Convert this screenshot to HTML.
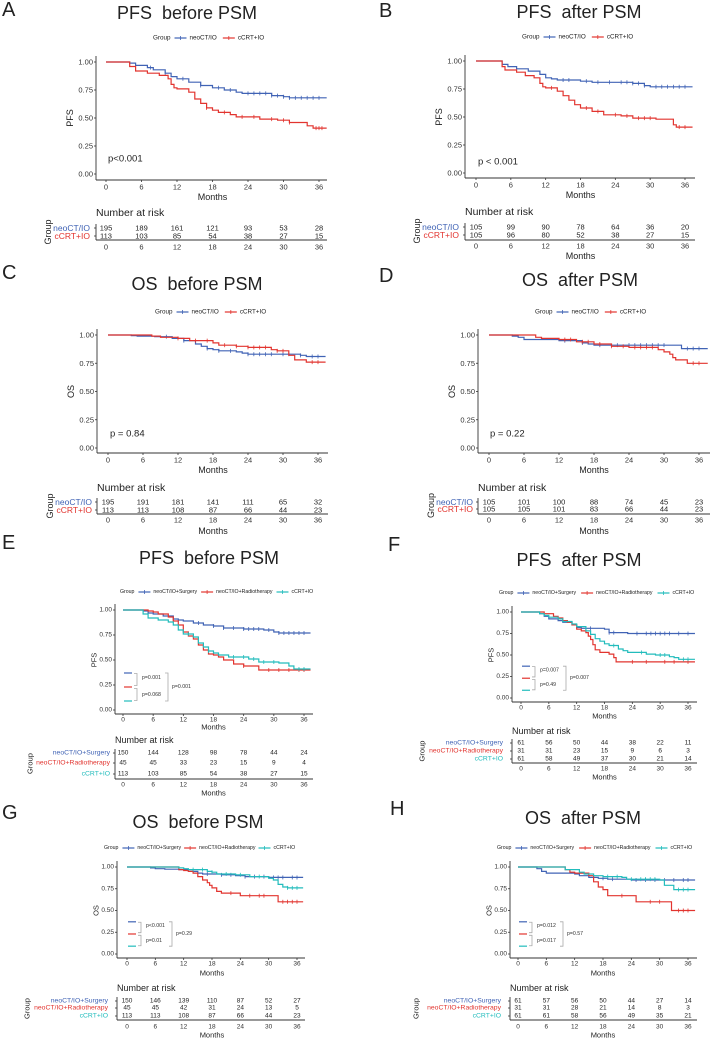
<!DOCTYPE html>
<html><head><meta charset="utf-8">
<style>
html,body{margin:0;padding:0;background:#fff;}
svg{display:block;font-family:"Liberation Sans",Arial,sans-serif;}
text{white-space:pre;}
</style></head>
<body>
<svg id="fig" width="710" height="1039" viewBox="0 0 710 1039" xmlns="http://www.w3.org/2000/svg"></svg>
<script>
// ---- data arrays (time in months, survival) ----
const xTicks=[0,6,12,18,24,30,36];
const yTicks=[0,0.25,0.5,0.75,1];
const yTickLabels=["0.00","0.25","0.50","0.75","1.00"];
const groups2=["neoCT/IO","cCRT+IO"];
const groups3=["neoCT/IO+Surgery","neoCT/IO+Radiotherapy","cCRT+IO"];

const aBlue=[[4,0.99],[5,0.97],[7,0.95],[8,0.93],[10,0.9],[11,0.87],[12,0.85],[14,0.82],[16,0.79],[18,0.77],[20,0.75],[22,0.73],[23,0.72],[28,0.7],[30,0.69],[31,0.68]];
const aRed=[[4,0.96],[5,0.92],[7,0.9],[9,0.88],[10.5,0.85],[11,0.8],[11.5,0.77],[12,0.76],[14,0.73],[15,0.67],[16,0.63],[17,0.59],[18,0.57],[19,0.55],[21,0.53],[22,0.51],[26,0.49],[29,0.48],[31,0.46],[34,0.43],[35,0.41]];
const aBlueC=[7.5,10,13,16,19,21,24,25,26,27,28,29,30,31,32,33,34,35,36];
const aRedC=[17,20,23,25,28,30,31,35.5,36,36.5];
const aRisk=[[195,189,161,121,93,53,28],[113,103,85,54,38,27,15]];

const bBlue=[[4.5,0.97],[5.5,0.95],[7,0.93],[9,0.91],[11,0.88],[12,0.85],[13,0.84],[14,0.83],[18,0.82],[20,0.81],[27,0.8],[29,0.78],[30,0.77]];
const bRed=[[4.5,0.95],[5,0.92],[7,0.9],[8.5,0.87],[10,0.85],[11,0.8],[11.5,0.77],[12,0.76],[14,0.73],[15,0.69],[16,0.65],[17,0.61],[18,0.58],[20,0.55],[22,0.52],[25,0.51],[27,0.49],[31,0.48],[34,0.43],[34.5,0.41]];
const bBlueC=[15,16,19,21,23,25,26,27,28,29,31,32,33,34,35,36];
const bRedC=[13,19,21,24,26,28,29,30,35,36];
const bRisk=[[105,99,90,78,64,36,20],[105,96,80,52,38,27,15]];

const cBlue=[[4,0.995],[5,0.99],[8,0.985],[11,0.97],[13,0.95],[15,0.92],[16,0.9],[17,0.88],[18,0.87],[19,0.86],[22,0.85],[23,0.84],[24,0.83],[33,0.82],[34,0.81]];
const cRed=[[7.5,0.99],[9,0.98],[12,0.97],[14,0.95],[18,0.93],[19,0.91],[22,0.9],[24,0.89],[28,0.87],[29,0.86],[31,0.82],[32,0.78],[34,0.76]];
const cBlueC=[10,13,17,19,21,24,25,26,27,28,30,31,33,35,36];
const cRedC=[12,15,17,20,22,24,25,26,27,29,30,35,36];
const cRisk=[[195,191,181,141,111,65,32],[113,113,108,87,66,44,23]];

const dBlue=[[4,0.99],[5,0.98],[6,0.96],[12,0.95],[16,0.93],[17,0.92],[18,0.91],[33,0.88]];
const dRed=[[8,0.98],[9,0.97],[12,0.96],[15,0.94],[18,0.92],[21,0.9],[24,0.89],[29,0.87],[30,0.85],[31,0.83],[31.5,0.8],[32,0.78],[34,0.75]];
const dBlueC=[13,16,19,22,24,25,26,27,28,29,30,34,35,36];
const dRedC=[13,14,16,17,19,21,23,25,26,27,28,35,36];
const dRisk=[[105,101,100,88,74,45,23],[105,105,101,83,66,44,23]];

const eBlue=[[4,0.99],[5,0.97],[6,0.96],[8,0.94],[10,0.91],[11,0.9],[12,0.89],[14,0.87],[16,0.85],[18,0.84],[20,0.82],[24,0.81],[28,0.8],[30,0.78],[31,0.77]];
const eRed=[[5,0.99],[6,0.98],[7,0.96],[9,0.93],[10,0.89],[11,0.85],[12,0.78],[13,0.74],[14,0.71],[15,0.65],[16,0.6],[17,0.56],[18,0.55],[19,0.53],[20,0.5],[22,0.46],[24,0.44],[27,0.4]];
const eTeal=[[4,0.96],[5,0.92],[7,0.9],[9,0.88],[10,0.85],[11,0.8],[12,0.76],[14,0.73],[15,0.67],[16,0.63],[17,0.59],[18,0.57],[19,0.55],[21,0.53],[25,0.51],[27,0.48],[31,0.47],[33,0.44],[34,0.41]];
const eBlueC=[10,15,18,20,22,24,25,26,27,29,31,32,33,34,35,36];
const eRedC=[24,29,31,33,35,36];
const eTealC=[13,17,22,24,26,28,30,35,36];
const eRisk=[[150,144,128,98,78,44,24],[45,45,33,23,15,9,4],[113,103,85,54,38,27,15]];

const fBlue=[[4,0.98],[5,0.95],[6,0.92],[8,0.9],[9,0.88],[11,0.85],[12,0.82],[13,0.81],[18,0.8],[19,0.76],[23,0.75]];
const fRed=[[5,0.98],[7,0.95],[8,0.93],[9,0.9],[10,0.88],[11,0.85],[12,0.8],[13,0.78],[14,0.76],[14.5,0.72],[15,0.68],[15.5,0.62],[16,0.56],[17,0.53],[19,0.51],[20,0.47],[20.5,0.42]];
const fTeal=[[4,0.98],[5,0.96],[6,0.94],[8,0.92],[9,0.89],[11,0.86],[12,0.83],[14,0.78],[15,0.74],[16,0.69],[17,0.66],[18,0.63],[19,0.61],[21,0.57],[22,0.55],[23,0.53],[27,0.51],[29,0.5],[32,0.48],[33,0.47],[34,0.45]];
const fBlueC=[15,19,20,25,27,28,29,30,31,32,34,36];
const fRedC=[24,27,31,33,36];
const fTealC=[20,26,30,31,35,36];
const fRisk=[[61,56,50,44,38,22,11],[31,31,23,15,9,6,3],[61,58,49,37,30,21,14]];

const gBlue=[[5,0.99],[6,0.98],[8,0.975],[11,0.97],[13,0.95],[15,0.93],[16,0.92],[20,0.91],[23,0.9],[25,0.89],[30,0.88]];
const gRed=[[11,0.97],[12,0.96],[13,0.95],[14,0.93],[15,0.89],[16,0.85],[17,0.82],[17.5,0.79],[18,0.76],[19,0.72],[20,0.7],[24,0.67],[32,0.6]];
const gTeal=[[11,0.99],[12,0.98],[13,0.97],[17,0.95],[18,0.94],[19,0.92],[23,0.91],[26,0.89],[30,0.87],[31,0.85],[32,0.8],[33,0.77],[34,0.76]];
const gBlueC=[14,17,20,22,25,27,29,31,32,33,35,36];
const gRedC=[22,26,28,29,33,34,35,36];
const gTealC=[14,16,18,21,24,28,34,35,36];
const gRisk=[[150,146,139,110,87,52,27],[45,45,42,31,24,13,5],[113,113,108,87,66,44,23]];

const hBlue=[[4,0.98],[5,0.95],[6,0.93],[12,0.92],[13,0.9],[15,0.88],[17,0.87],[19,0.86],[24,0.85]];
const hRed=[[10,0.97],[11,0.94],[12,0.93],[15,0.9],[16,0.83],[17,0.77],[18,0.74],[19,0.67],[25,0.6],[32.5,0.5]];
const hTeal=[[10,0.97],[13,0.94],[14,0.92],[16,0.9],[18,0.89],[22,0.88],[23,0.86],[30,0.85],[31,0.79],[33,0.74]];
const hBlueC=[18,20,25,27,29,31,33,35,36];
const hRedC=[22,28,30,34,35,36];
const hTealC=[19,21,24,26,27,28,29,34,35,36];
const hRisk=[[61,57,56,50,44,27,14],[31,31,28,21,14,8,3],[61,61,58,56,49,35,21]];

const BLUE="#4063b5", RED="#e2342f", TEAL="#22bcbc";
const NS="http://www.w3.org/2000/svg";
const svg=document.getElementById('fig');
function mk(tag,attrs,parent){const e=document.createElementNS(NS,tag);for(const k in attrs)e.setAttribute(k,attrs[k]);(parent||svg).appendChild(e);return e;}
function txt(str,x,y,size,opts,parent){opts=opts||{};const t=mk('text',{x:x,y:y,'font-size':size,fill:opts.fill||'#222','text-anchor':opts.anchor||'start','dominant-baseline':'central'},parent);if(opts.rot)t.setAttribute('transform','rotate(-90 '+x+' '+y+')');t.textContent=str;return t;}
function surv(series,t){let s=1;for(const p of series){if(p[0]<=t)s=p[1];}return s;}

function panel(P){
  const g=mk('g',{});
  
  
  const X=t=>P.x0+(P.x36-P.x0)*t/36;
  const Y=v=>P.y0-(P.y0-P.y1)*v;
  const big=P.big;
  const fs=big?{tick:7.5,mon:9,nar:10.5,row:7.5,lab:8.5,leg:6.3,ax:9}:{tick:6.5,mon:7.5,nar:9,row:6.5,lab:6.8,leg:5.2,ax:7.5};
  const L=txt(P.letter,P.lx,P.ly,20,{},g);
  
  
  const T=txt(P.title,P.tx,P.ty,18,{anchor:'middle'},g);
  
  
  const lg=mk('g',{},g);
  
  
  let lx=P.legX;
  const g1=txt('Group',lx,P.legY,fs.leg,{},lg);
  lx+=g1.getComputedTextLength()+4;
  P.series.forEach((s,i)=>{
    mk('line',{x1:lx,y1:P.legY,x2:lx+12,y2:P.legY,stroke:s.color,'stroke-width':1.2},lg);
    mk('line',{x1:lx+6,y1:P.legY-2,x2:lx+6,y2:P.legY+2,stroke:s.color,'stroke-width':0.8},lg);
    const t=txt(P.groups[i],lx+15,P.legY,fs.leg,{},lg);
    
    
    lx+=15+t.getComputedTextLength()+(P.legGap||6);
  });
  const ax=mk('g',{},g);
  
  
  mk('line',{x1:P.ax,y1:P.y1-6,x2:P.ax,y2:P.xl,stroke:'#333','stroke-width':0.9},ax);
  mk('line',{x1:P.ax,y1:P.xl,x2:P.xr,y2:P.xl,stroke:'#333','stroke-width':0.9},ax);
  yTicks.forEach((v,i)=>{mk('line',{x1:P.ax-2,y1:Y(v),x2:P.ax,y2:Y(v),stroke:'#333','stroke-width':0.8},ax);txt(yTickLabels[i],P.ax-3,Y(v),fs.tick,{anchor:'end',fill:'#333'},ax);});
  xTicks.forEach(t=>{mk('line',{x1:X(t),y1:P.xl,x2:X(t),y2:P.xl+2,stroke:'#333','stroke-width':0.8},ax);txt(String(t),X(t),P.tickY,fs.tick,{anchor:'middle',fill:'#333'},ax);});
  txt('Months',(P.x0+P.x36)/2,P.monY,fs.mon,{anchor:'middle'},ax);
  txt(P.ylab,P.ax-(big?26:21),(P.y0+P.y1)/2,fs.ax,{anchor:'middle',rot:true},ax);
  P.series.forEach((s,i)=>{
    let d='M'+X(0)+' '+Y(1);
    s.data.forEach(p=>{d+=' H'+X(p[0]).toFixed(1)+' V'+Y(p[1]).toFixed(1);});
    d+=' H'+X(P.tEnd);
    const c=mk('path',{d:d,fill:'none',stroke:s.color,'stroke-width':1.2},g);
    
    
    s.cens.forEach(t=>{const yy=Y(surv(s.data,t));mk('line',{x1:X(t),y1:yy-2,x2:X(t),y2:yy+2,stroke:s.color,'stroke-width':0.8},g);});
  });
  if(P.p){const pt=txt(P.p,P.px,P.py,big?9.5:7,{},g);}
  if(P.pw){
    const bx=mk('g',{},g);
    
    
    const ys=[Y(0.37),Y(0.23),Y(0.09)];
    P.series.forEach((s,i)=>mk('line',{x1:X(0)+1,y1:ys[i],x2:X(0)+9,y2:ys[i],stroke:s.color,'stroke-width':1.2},bx));
    const gray='#aaa';
    const br=(x,a,b)=>{mk('path',{d:'M'+(x-3)+' '+a+' H'+x+' V'+b+' H'+(x-3),fill:'none',stroke:gray,'stroke-width':0.8},bx);};
    br(X(0)+14,Y(0.365),Y(0.245));
    br(X(0)+14,Y(0.215),Y(0.095));
    br(X(0)+45,Y(0.37),Y(0.09));
    txt(P.pw[0],X(0)+19,Y(0.32),5.2,{fill:'#333'},bx);
    txt(P.pw[1],X(0)+19,Y(0.15),5.2,{fill:'#333'},bx);
    txt(P.pw[2],X(0)+49,Y(0.23),5.2,{fill:'#333'},bx);
  }
  const rt=mk('g',{},g);
  
  
  txt('Number at risk',P.ax,P.narY,fs.nar,{},rt);
  P.rowY.forEach((ry,i)=>{
    txt(P.groups[i],P.labR,ry,fs.lab,{anchor:'end',fill:P.series[i].color},rt);
    mk('line',{x1:P.ax-2,y1:ry,x2:P.ax,y2:ry,stroke:'#333','stroke-width':0.8},rt);
    P.risk[i].forEach((n,j)=>txt(String(n),X(xTicks[j]),ry,fs.row,{anchor:'middle',fill:'#222'},rt));
  });
  mk('line',{x1:P.ax,y1:P.rowY[0]-4,x2:P.ax,y2:P.tLine,stroke:'#333','stroke-width':0.9},rt);
  mk('line',{x1:P.ax,y1:P.tLine,x2:P.xr,y2:P.tLine,stroke:'#333','stroke-width':0.9},rt);
  xTicks.forEach(t=>txt(String(t),X(t),P.tTickY,fs.tick,{anchor:'middle',fill:'#333'},rt));
  if(P.tMonY)txt('Months',(P.x0+P.x36)/2,P.tMonY,fs.mon,{anchor:'middle'},rt);
  txt('Group',P.grpX,(P.rowY[0]+P.rowY[P.rowY.length-1])/2,fs.ax,{anchor:'middle',rot:true},rt);
}

const two=(b,r,bc,rc)=>[{color:BLUE,data:b,cens:bc},{color:RED,data:r,cens:rc}];
const three=(b,r,t,bc,rc,tc)=>[{color:BLUE,data:b,cens:bc},{color:RED,data:r,cens:rc},{color:TEAL,data:t,cens:tc}];

panel({name:'panel-a',big:true,letter:'A',lx:2,ly:10,title:'PFS  before PSM',tx:187,ty:13,legX:153,legY:38,groups:groups2,series:two(aBlue,aRed,aBlueC,aRedC),
  ax:96,x0:106,x36:319,xr:327,y1:62,y0:174,xl:180,tickY:187,monY:197,ylab:'PFS',tEnd:37.3,p:'p<0.001',px:108,py:159,
  risk:aRisk,narY:213,rowY:[228,236],labR:90,tLine:240,tTickY:247,tMonY:null,grpX:48});
panel({name:'panel-b',big:true,letter:'B',lx:379,ly:11,title:'PFS  after PSM',tx:579,ty:12,legX:522,legY:37,groups:groups2,series:two(bBlue,bRed,bBlueC,bRedC),
  ax:465,x0:476,x36:685,xr:695,y1:61,y0:173,xl:178,tickY:185,monY:195,ylab:'PFS',tEnd:37.3,p:'p < 0.001',px:478,py:162,
  risk:bRisk,narY:212,rowY:[227,235],labR:459,tLine:240,tTickY:246,tMonY:256,grpX:417});
panel({name:'panel-c',big:true,letter:'C',lx:2,ly:273,title:'OS  before PSM',tx:197,ty:284,legX:155,legY:312,groups:groups2,series:two(cBlue,cRed,cBlueC,cRedC),
  ax:97,x0:108,x36:318,xr:328,y1:335,y0:448,xl:453,tickY:460,monY:470,ylab:'OS',tEnd:37.3,p:'p = 0.84',px:110,py:434,
  risk:cRisk,narY:488,rowY:[502,510],labR:92,tLine:514,tTickY:520,tMonY:531,grpX:50});
panel({name:'panel-d',big:true,letter:'D',lx:379,ly:276,title:'OS  after PSM',tx:580,ty:280,legX:535,legY:312,groups:groups2,series:two(dBlue,dRed,dBlueC,dRedC),
  ax:478,x0:489,x36:699,xr:710,y1:335,y0:448,xl:453,tickY:460,monY:470,ylab:'OS',tEnd:37.5,p:'p = 0.22',px:490,py:434,
  risk:dRisk,narY:488,rowY:[502,509],labR:473,tLine:514,tTickY:520,tMonY:531,grpX:431});
panel({name:'panel-e',big:false,letter:'E',lx:2,ly:543,title:'PFS  before PSM',tx:209,ty:558,legX:120,legY:592,legGap:4,groups:groups3,series:three(eBlue,eRed,eTeal,eBlueC,eRedC,eTealC),
  ax:115,x0:123,x36:304,xr:313,y1:610,y0:710,xl:714,tickY:720,monY:727,ylab:'PFS',tEnd:37.3,pw:['p=0.001','p=0.068','p=0.001'],
  risk:eRisk,narY:740,rowY:[753,763,774],labR:110,tLine:779,tTickY:785,tMonY:793,grpX:30});
panel({name:'panel-f',big:false,letter:'F',lx:388,ly:545,title:'PFS  after PSM',tx:579,ty:560,legX:499,legY:593,legGap:5,groups:groups3,series:three(fBlue,fRed,fTeal,fBlueC,fRedC,fTealC),
  ax:512,x0:521,x36:688,xr:697,y1:612,y0:698,xl:702,tickY:708,monY:716,ylab:'PFS',tEnd:37.5,pw:['p=0.007','p=0.49','p=0.007'],
  risk:fRisk,narY:731,rowY:[743,751,759],labR:503,tLine:763,tTickY:769,tMonY:777,grpX:422});
panel({name:'panel-g',big:false,letter:'G',lx:2,ly:813,title:'OS  before PSM',tx:198,ty:822,legX:104,legY:848,legGap:3,groups:groups3,series:three(gBlue,gRed,gTeal,gBlueC,gRedC,gTealC),
  ax:117,x0:127,x36:297,xr:305,y1:867,y0:954,xl:958,tickY:964,monY:973,ylab:'OS',tEnd:37.3,pw:['p<0.001','p=0.01','p=0.29'],
  risk:gRisk,narY:988,rowY:[1001,1008,1016],labR:108,tLine:1020,tTickY:1027,tMonY:1035,grpX:27});
panel({name:'panel-h',big:false,letter:'H',lx:390,ly:809,title:'OS  after PSM',tx:583,ty:818,legX:497,legY:848,legGap:5,groups:groups3,series:three(hBlue,hRed,hTeal,hBlueC,hRedC,hTealC),
  ax:510,x0:518,x36:688,xr:697,y1:867,y0:954,xl:958,tickY:964,monY:973,ylab:'OS',tEnd:37.5,pw:['p=0.012','p=0.017','p=0.57'],
  risk:hRisk,narY:988,rowY:[1001,1008,1016],labR:501,tLine:1020,tTickY:1027,tMonY:1035,grpX:416});
</script>
</body></html>
